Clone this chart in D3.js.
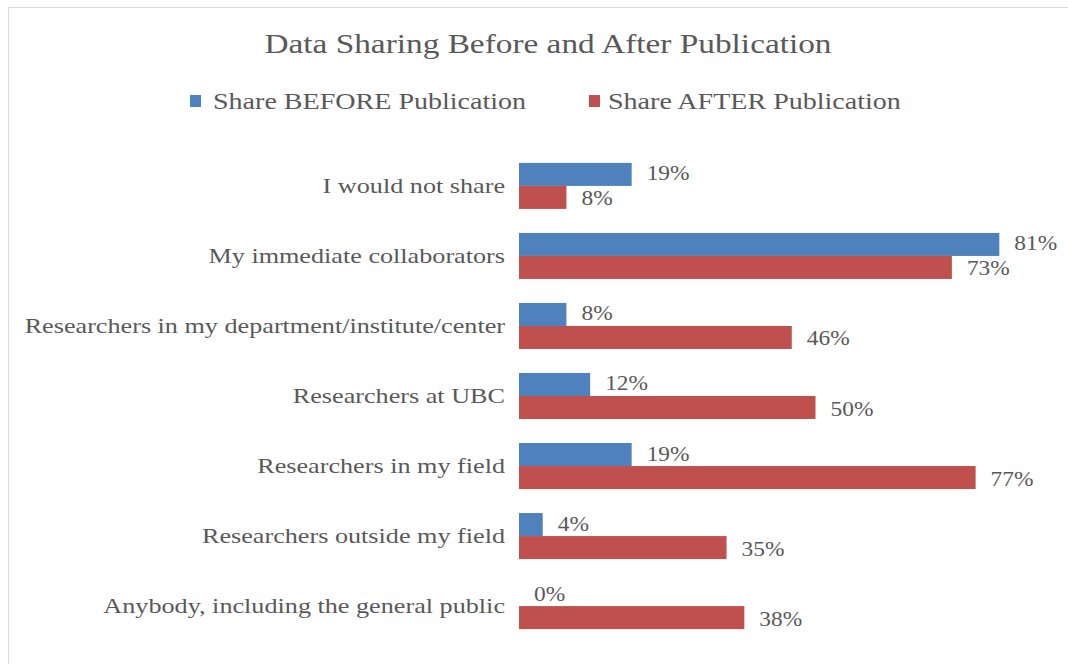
<!DOCTYPE html>
<html>
<head>
<meta charset="utf-8">
<script src="https://cdn.jsdelivr.net/npm/d3@7"></script>
<style>
  body { margin: 0; background: #fff; }
  svg { display: block; }
</style>
</head>
<body>
<svg width="1068" height="664"></svg>
<script>
// categories top to bottom
var categories = [
    'I would not share',
    'My immediate collaborators',
    'Researchers in my department/institute/center',
    'Researchers at UBC',
    'Researchers in my field',
    'Researchers outside my field',
    'Anybody, including the general public'
];
var before = [19, 81, 8, 12, 19, 4, 0];
var after = [8, 73, 46, 50, 77, 35, 38];
var seriesNames = ['Share BEFORE Publication', 'Share AFTER Publication'];
var seriesColors = ['#4f81bd', '#c0504d'];

var svg = d3.select('svg'),
    width = 1068,
    height = 664,
    font = '"Liberation Serif", "Times New Roman", serif',
    textColor = '#595959',
    stretch = 1.19;  // the original text is set wider than Times

// text drawn with a horizontal stretch round its anchor point
function label(parent, x, y, str, size, anchor, sx) {
    return parent.append('text')
        .attr('transform', 'translate(' + x + ',' + y + ') scale(' + (sx || stretch) + ',1)')
        .attr('text-anchor', anchor || 'start')
        .attr('font-family', font)
        .attr('font-size', size)
        .attr('fill', textColor)
        .text(str);
}

// chart frame
svg.append('rect')
    .attr('x', 8.5).attr('y', 7.5)
    .attr('width', 1070).attr('height', 680)
    .attr('fill', '#fff')
    .attr('stroke', '#d9d9d9');

label(svg, 548, 53, 'Data Sharing Before and After Publication', 28, 'middle');

// legend
var legendX = [190, 589];
seriesNames.forEach(function (name, i) {
    var g = svg.append('g').attr('transform', 'translate(' + legendX[i] + ',101)');
    g.append('rect').attr('x', 0).attr('y', -6).attr('width', 11).attr('height', 12)
        .attr('fill', seriesColors[i]);
    label(g, i ? 19 : 23, 8, name, 23, 'start', 1.22);
});

var x = d3.scaleLinear().domain([0, 100]).range([519, 1112]);
var y = d3.scaleBand().domain(categories).range([151, 641]).paddingInner(0.343).paddingOuter(0.17);

var rows = categories.map(function (c, i) {
    return { cat: c, values: [before[i], after[i]] };
});

// category labels
var catG = svg.append('g');
categories.forEach(function (c) {
    label(catG, 505, y(c) + y.bandwidth() / 2 + 7, c, 22, 'end');
});

var barH = y.bandwidth() / 2;

var row = svg.append('g').selectAll('g')
    .data(rows)
    .join('g')
    .attr('transform', function (d) { return 'translate(0,' + y(d.cat) + ')'; });

row.selectAll('rect')
    .data(function (d) { return d.values; })
    .join('rect')
    .attr('x', x(0))
    .attr('y', function (d, i) { return i * barH; })
    .attr('width', function (d) { return x(d) - x(0); })
    .attr('height', barH)
    .attr('fill', function (d, i) { return seriesColors[i]; });

row.each(function (d) {
    var g = d3.select(this);
    d.values.forEach(function (v, i) {
        label(g, x(v) + 15, i * barH + barH / 2 + 6 + (i ? 2 : 0), v + '%', 20, 'start', 1.17);
    });
});
</script>
</body>
</html>
